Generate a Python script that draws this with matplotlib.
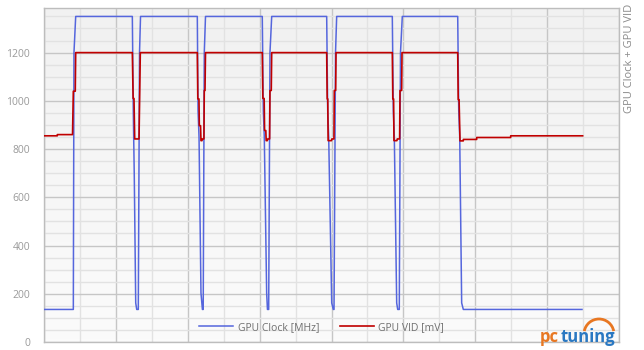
import matplotlib
matplotlib.use("Agg")
import matplotlib.pyplot as plt
import numpy as np
from matplotlib.ticker import MultipleLocator
from matplotlib.patches import Arc

# ---- data (time in arbitrary units, value in MHz / mV) ----
clock_t = [0, 40.8, 41.7, 44.1,
           122.9, 124.2, 125.6, 127.6, 129.0, 131.2, 132.9, 134.3,
           213.3, 214.3, 215.7, 218.4, 220.4, 221.5, 223.0, 224.7,
           303.7, 305.1, 306.5, 309.8, 310.9, 312.6, 314.4, 316.8,
           393.3, 394.7, 396.1, 400.3, 402.5, 403.5, 405.6, 407.2,
           484.6, 486.0, 487.4, 490.7, 492.1, 494.3, 496.0, 498.5,
           575.6, 577.0, 578.4, 581.1, 583.4, 748.5]
clock_v = [135, 135, 1200, 1350,
           1350, 960, 690, 162, 135, 135, 1200, 1350,
           1350, 960, 850, 203, 135, 135, 1200, 1350,
           1350, 960, 850, 202, 135, 135, 1200, 1350,
           1350, 960, 850, 162, 135, 135, 1200, 1350,
           1350, 960, 850, 162, 135, 135, 1200, 1350,
           1350, 960, 850, 162, 135, 135]

vid_t = [0, 18.5, 18.5, 39.7, 40.8, 43.5, 44.1,
         122.9, 124.0, 125.2, 126.2, 132.2, 134.0,
         213.3, 214.0, 215.6, 216.1, 217.8, 218.4, 219.8, 220.3, 222.5, 223.0, 224.0, 224.7,
         303.7, 304.5, 306.3, 306.9, 308.6, 309.1, 310.7, 311.2, 313.9, 314.4, 316.2, 316.8,
         393.3, 394.0, 394.8, 395.3, 400.0, 400.5, 403.4, 403.9, 405.8, 406.3,
         484.6, 485.3, 486.4, 486.9, 491.0, 491.5, 494.8, 495.3, 497.6, 498.1,
         575.6, 576.3, 577.5, 578.8, 583.4, 583.4, 602.0, 602.0, 649.3, 649.3, 749.4]
vid_v = [855, 855, 860, 860, 1040, 1040, 1200,
         1200, 1010, 1010, 842, 842, 1200,
         1200, 1008, 1008, 897, 897, 835, 835, 842, 842, 1043, 1043, 1200,
         1200, 1010, 1010, 877, 877, 835, 835, 842, 842, 1043, 1043, 1200,
         1200, 1008, 1008, 835, 835, 842, 842, 1043, 1043, 1200,
         1200, 1008, 1008, 835, 835, 842, 842, 1043, 1043, 1200,
         1200, 1005, 1005, 834, 834, 840, 840, 848, 848, 855, 855]

y_ticks = [0, 200, 400, 600, 800, 1000, 1200]
series_labels = ["GPU Clock [MHz]", "GPU VID [mV]"]
axis_title = "GPU Clock + GPU VID"

plt.rcParams['font.family'] = ['Open Sans', 'DejaVu Sans']

fig = plt.figure(figsize=(6.44, 3.5), dpi=100)
ax = fig.add_axes([44/644, 8/350, 575/644, 334/350])

# gradient background
grad = np.linspace(0, 1, 100).reshape(-1, 1)
ax.imshow(grad, extent=[0, 1, 0, 1], transform=ax.transAxes,
          cmap=matplotlib.colors.LinearSegmentedColormap.from_list('g', ['#fbfbfb', '#f1f1f1']),
          aspect='auto', origin='lower', zorder=0)

ax.set_xlim(0, 800)
ax.set_ylim(0, 1385)
ax.xaxis.set_major_locator(MultipleLocator(100))
ax.xaxis.set_minor_locator(MultipleLocator(50))
ax.yaxis.set_major_locator(MultipleLocator(200))
ax.yaxis.set_minor_locator(MultipleLocator(50))
ax.set_yticks(y_ticks)
ax.grid(which='major', color='#c6c6c6', lw=1.0, zorder=1)
ax.grid(which='minor', color='#e2e2e2', lw=1.0, zorder=1)
ax.set_axisbelow(True)
ax.tick_params(which='both', length=0)
ax.tick_params(axis='y', labelsize=7.5, labelcolor='#9a9a9a', pad=10)
ax.set_xticklabels([])
for s in ax.spines.values():
    s.set_color('#bdbdbd')
    s.set_linewidth(1.0)

ax.plot(clock_t, clock_v, color='#5566dd', lw=1.1, label=series_labels[0], zorder=3)
ax.plot(vid_t, vid_v, color='#c00000', lw=1.2, label=series_labels[1], zorder=4)

leg = ax.legend(loc='lower center', bbox_to_anchor=(0.483, 0.0), ncol=2, frameon=False,
                fontsize=7.5, handlelength=3.3, handletextpad=0.4, columnspacing=2.0)
for t in leg.get_texts():
    t.set_color('#707070')

fig.text(630/644, 1 - 4/350, axis_title, rotation=90, ha='center', va='top',
         fontsize=8, color='#8a8a8a')

# logo
fig.text(540/644, 4/350, "pc", color='#e87722', fontsize=12, fontweight='bold', ha='left', va='bottom')
fig.text(561/644, 4/350, "tuning", color='#2a78c2', fontsize=12, fontweight='bold', ha='left', va='bottom')
arc = Arc((599/644, 16/350), 30/644, 30/350, theta1=20, theta2=160,
          transform=fig.transFigure, color='#e87722', lw=2)
fig.add_artist(arc)

fig.savefig('out.png', dpi=100)
